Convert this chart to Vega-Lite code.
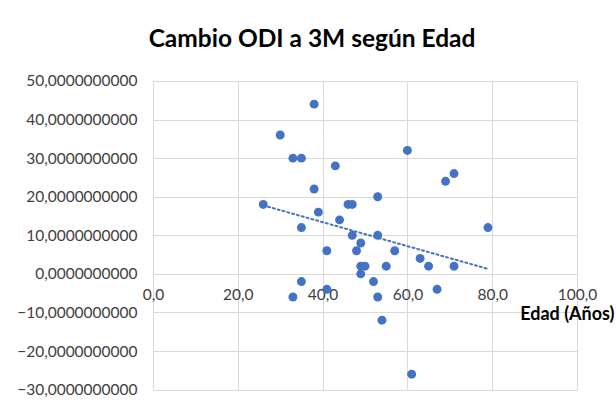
{
 "$schema": "https://vega.github.io/schema/vega-lite/v6.json",
 "width": 424,
 "height": 308.6,
 "padding": {"left": 16, "top": 27, "right": 5, "bottom": 5},
 "title": {"text": "Cambio ODI a 3M según Edad", "fontSize": 24.5, "font": "Lato", "fontWeight": "bold", "color": "#000000", "anchor": "middle", "dx": -53, "offset": 21},
 "config": {
  "locale": {"number": {"decimal": ",", "thousands": ".", "grouping": [3], "currency": ["", " €"]}},
  "view": {"stroke": null},
  "font": "Lato",
  "axis": {"labelOverlap": false}
 },
 "data": {"values": [
  {"edad": 38, "cambio": 44}, {"edad": 30, "cambio": 36}, {"edad": 33, "cambio": 30}, {"edad": 35, "cambio": 30},
  {"edad": 60, "cambio": 32}, {"edad": 43, "cambio": 28}, {"edad": 71, "cambio": 26}, {"edad": 69, "cambio": 24},
  {"edad": 38, "cambio": 22}, {"edad": 53, "cambio": 20}, {"edad": 26, "cambio": 18}, {"edad": 46, "cambio": 18},
  {"edad": 47, "cambio": 18}, {"edad": 39, "cambio": 16}, {"edad": 44, "cambio": 14}, {"edad": 35, "cambio": 12},
  {"edad": 79, "cambio": 12}, {"edad": 47, "cambio": 10}, {"edad": 53, "cambio": 10}, {"edad": 49, "cambio": 8},
  {"edad": 41, "cambio": 6}, {"edad": 48, "cambio": 6}, {"edad": 57, "cambio": 6}, {"edad": 63, "cambio": 4},
  {"edad": 49, "cambio": 2}, {"edad": 50, "cambio": 2}, {"edad": 55, "cambio": 2}, {"edad": 65, "cambio": 2},
  {"edad": 71, "cambio": 2}, {"edad": 49, "cambio": 0}, {"edad": 35, "cambio": -2}, {"edad": 52, "cambio": -2},
  {"edad": 41, "cambio": -4}, {"edad": 67, "cambio": -4}, {"edad": 33, "cambio": -6}, {"edad": 53, "cambio": -6},
  {"edad": 54, "cambio": -12}, {"edad": 61, "cambio": -26}
 ]},
 "encoding": {
  "x": {"field": "edad", "type": "quantitative", "scale": {"domain": [0, 100], "nice": false},
   "axis": {"values": [0, 20, 40, 60, 80, 100], "format": ".1f", "title": "Edad (Años)", "offset": -115.7,
    "domain": false, "ticks": false, "labelPadding": 14, "labelFontSize": 15.5, "labelColor": "#404040",
    "gridColor": "#d9d9d9", "labelFlush": false, "labelOverlap": false,
    "titleFontSize": 18, "titleFontWeight": "bold", "titleColor": "#000000",
    "titleX": 461, "titleY": 41, "titleAlign": "right", "titleBaseline": "middle"}},
  "y": {"field": "cambio", "type": "quantitative", "scale": {"domain": [-30, 50], "nice": false},
   "axis": {"values": [-30, -20, -10, 0, 10, 20, 30, 40, 50], "format": ".10f", "title": null,
    "domain": false, "ticks": false, "labelPadding": 16, "labelFontSize": 15.5, "labelColor": "#404040",
    "labelOverlap": false,
    "gridColor": "#d9d9d9", "minExtent": 130, "maxExtent": 130}}
 },
 "layer": [
  {
   "mark": {"type": "circle", "size": 80, "color": "#4472C4", "opacity": 1}
  },
  {
   "transform": [{"regression": "cambio", "on": "edad"}],
   "mark": {"type": "line", "color": "#4472C4", "strokeWidth": 2, "strokeDash": [2, 3], "strokeCap": "round"}
  }
 ]
}
